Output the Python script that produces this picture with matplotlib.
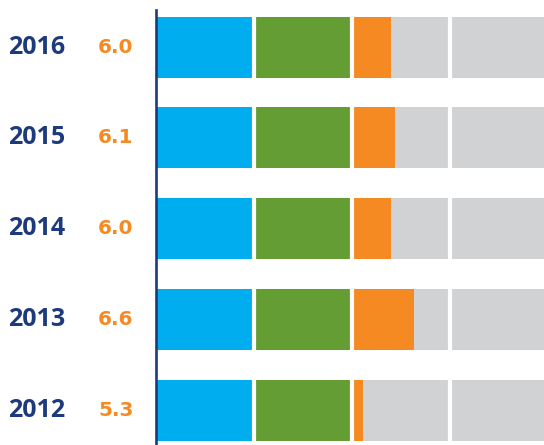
import matplotlib
matplotlib.use("Agg")
import matplotlib.pyplot as plt
from matplotlib.transforms import blended_transform_factory

years = ["2012", "2013", "2014", "2015", "2016"]
values = [5.3, 6.6, 6.0, 6.1, 6.0]
blue_seg = [2.5, 2.5, 2.5, 2.5, 2.5]
green_seg = [2.5, 2.5, 2.5, 2.5, 2.5]
scale_max = 10.0
gridlines = [2.5, 5.0, 7.5]

c_blue = "#00aeef"
c_green = "#659d35"
c_orange = "#f58a22"
c_gray = "#d1d2d4"
c_navy = "#1c3a7c"

plt.rcParams['font.family'] = ['Open Sans', 'DejaVu Sans']

fig = plt.figure(figsize=(5.44, 4.45), dpi=100)
ax = fig.add_axes([155.7 / 544, 0, 1 - 155.7 / 544, 435 / 445])

ypos = list(range(len(years)))
h = 0.672
orange_seg = [v - b - g for v, b, g in zip(values, blue_seg, green_seg)]
gray_seg = [scale_max - v for v in values]
starts_green = blue_seg
starts_orange = [b + g for b, g in zip(blue_seg, green_seg)]

ax.barh(ypos, blue_seg, left=0, height=h, color=c_blue, linewidth=0)
ax.barh(ypos, green_seg, left=starts_green, height=h, color=c_green, linewidth=0)
ax.barh(ypos, orange_seg, left=starts_orange, height=h, color=c_orange, linewidth=0)
ax.barh(ypos, gray_seg, left=values, height=h, color=c_gray, linewidth=0)

for g in gridlines:
    ax.axvline(g, color="white", lw=3.0, zorder=3)

ax.set_xlim(0, 9.905)
ax.set_ylim(-0.382, 4.41)

for s in ["top", "right", "bottom"]:
    ax.spines[s].set_visible(False)
ax.spines["left"].set_color(c_navy)
ax.spines["left"].set_linewidth(1.9)
ax.set_xticks([])
ax.set_yticks([])

tr = blended_transform_factory(fig.transFigure, ax.transData)
for y, yr, v in zip(ypos, years, values):
    ax.text(36.5 / 544, y, yr, transform=tr, ha="center", va="center",
            fontsize=18, fontweight="bold", color=c_navy)
    ax.text(133.5 / 544, y, f"{v:.1f}", transform=tr, ha="right", va="center",
            fontsize=14.5, fontweight="bold", color=c_orange,
            family=["DejaVu Sans"])

fig.savefig("out.png", dpi=100)
